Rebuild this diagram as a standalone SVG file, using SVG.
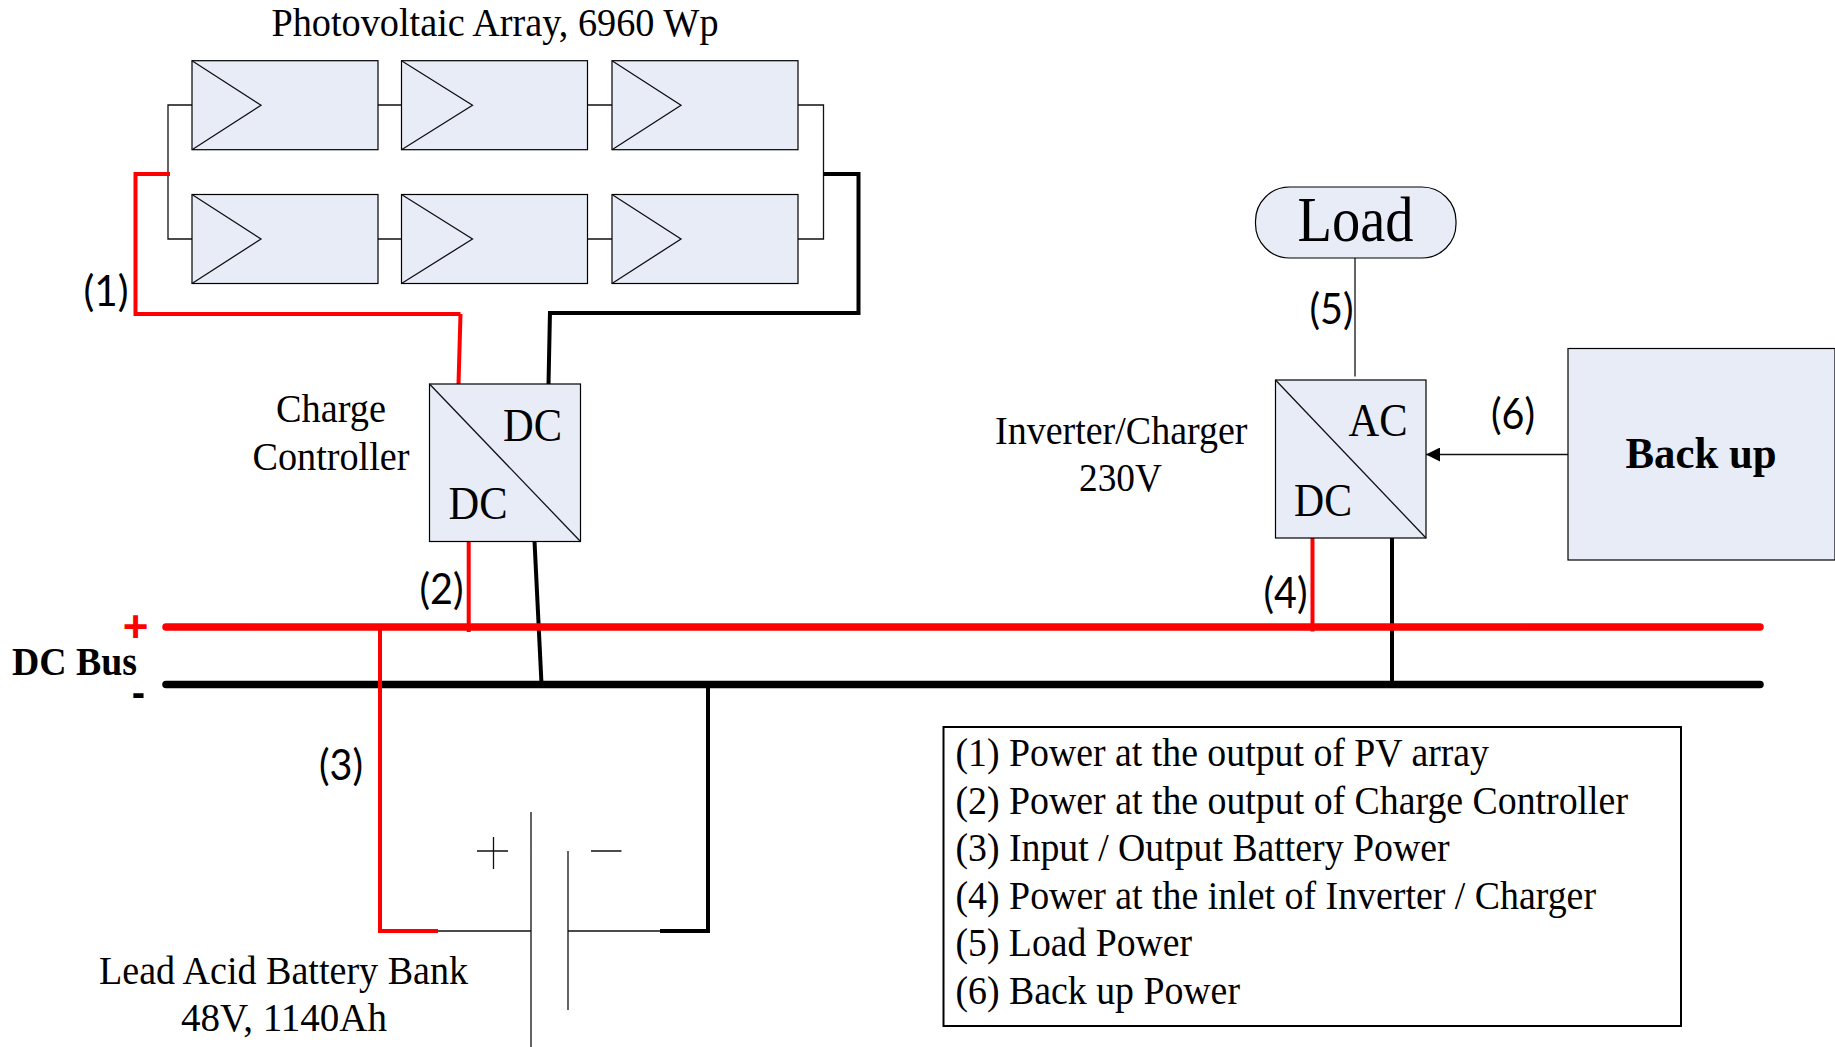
<svg xmlns="http://www.w3.org/2000/svg" width="1835" height="1047" viewBox="0 0 1835 1047">
<style>
.s{font-family:"Liberation Serif","Times New Roman",serif;fill:#000;font-size:40px}
.b{font-weight:bold}
.c{font-family:Lato,"Liberation Sans",sans-serif;fill:#000;font-size:42px}
.box{fill:#E7ECF7;stroke:#000;stroke-width:1.2}
.w{fill:none;stroke:#111;stroke-width:1.3}
.r{fill:none;stroke:#f00;stroke-width:4}
.k{fill:none;stroke:#000;stroke-width:4}
</style>
<defs>
<g id="pv"><rect class="box" x="0" y="0" width="186" height="89"/><path class="w" d="M0 0L69 44.500L0 89"/></g>
<g id="pv2"><rect class="box" x="0" y="0" width="186" height="89"/><path class="w" d="M0 0L71 44.500L0 89"/></g>
<marker id="ah" markerUnits="userSpaceOnUse" markerWidth="14" markerHeight="14" refX="14" refY="7" orient="auto"><path d="M0 0L14 7L0 14Z" fill="#000"/></marker>
</defs>
<g id="connectors">
<path class="w" d="M192 105H168V239H192M378 105H401M378 239H401M587.500 105H612M587.500 239H612M798 105H823.500V239H798"/>
<path class="r" d="M170 174H135.500V314H460.500M460.500 314L458.500 384"/>
<path class="k" d="M823.500 174H858.500V313H550M550 311L548.500 384"/>
<path class="r" d="M468.700 541V632"/>
<path class="k" d="M534.500 541L541.500 684"/>
<path class="r" d="M1312.500 537V631.500"/>
<path class="k" d="M1392 537V684"/>
<path class="w" d="M1355 258V376.500"/>
<path class="w" d="M1568 454.500H1426" marker-end="url(#ah)"/>
<path fill="none" stroke="#f00" stroke-width="7.500" stroke-linecap="round" d="M166 627H1760"/>
<path fill="none" stroke="#000" stroke-width="7.500" stroke-linecap="round" d="M166 684.500H1760"/>
<path class="r" d="M380 627V931H438"/>
<path class="k" d="M660 931H708V684"/>
<path class="w" d="M438 931H531M568 931H660"/>
</g>
<g id="pv-array">
<use href="#pv" x="192" y="60.700"/><use href="#pv2" x="401.500" y="60.700"/><use href="#pv" x="612" y="60.700"/>
<use href="#pv" x="192" y="194.500"/><use href="#pv2" x="401.500" y="194.500"/><use href="#pv" x="612" y="194.500"/>
<text class="s" x="271.500" y="36" textLength="447" lengthAdjust="spacingAndGlyphs">Photovoltaic Array, 6960 Wp</text>
</g>
<g id="charge-controller">
<rect class="box" x="429.500" y="384" width="151" height="157.500"/>
<path class="w" d="M429.500 384L580.500 541.500"/>
<text class="s" x="503" y="441" style="font-size:46px" textLength="59" lengthAdjust="spacingAndGlyphs">DC</text>
<text class="s" x="448.500" y="519" style="font-size:46px" textLength="59" lengthAdjust="spacingAndGlyphs">DC</text>
<text class="s" x="276" y="422" textLength="110" lengthAdjust="spacingAndGlyphs">Charge</text>
<text class="s" x="252.500" y="470" textLength="157" lengthAdjust="spacingAndGlyphs">Controller</text>
</g>
<g id="load">
<rect class="box" x="1255.500" y="187" width="200.500" height="71" rx="34" ry="34"/>
<text class="s" x="1297.500" y="241" style="font-size:63px" textLength="116" lengthAdjust="spacingAndGlyphs">Load</text>
</g>
<g id="inverter">
<rect class="box" x="1275.500" y="380" width="150.500" height="158"/>
<path class="w" d="M1275.500 380L1426 538"/>
<text class="s" x="1348.500" y="436" style="font-size:46px" textLength="59" lengthAdjust="spacingAndGlyphs">AC</text>
<text class="s" x="1294" y="516" style="font-size:46px" textLength="58" lengthAdjust="spacingAndGlyphs">DC</text>
<text class="s" x="995" y="443.500" textLength="252.500" lengthAdjust="spacingAndGlyphs">Inverter/Charger</text>
<text class="s" x="1079" y="491" textLength="83" lengthAdjust="spacingAndGlyphs">230V</text>
</g>
<g id="backup">
<rect class="box" x="1568" y="348.500" width="267" height="211.500"/>
<text class="s b" x="1625.500" y="468" style="font-size:44px" textLength="151" lengthAdjust="spacingAndGlyphs">Back up</text>
</g>
<g id="dc-bus">
<text class="s b" x="12" y="675" style="font-size:40px" textLength="125" lengthAdjust="spacingAndGlyphs">DC Bus</text>
<text x="135.500" y="642" text-anchor="middle" style="font-family:'Liberation Sans',sans-serif;font-size:44px;font-weight:bold;fill:#f00">+</text>
<text x="138.500" y="706" text-anchor="middle" style="font-family:'Liberation Sans',sans-serif;font-size:40px;font-weight:bold;fill:#000">-</text>
</g>
<g id="battery">
<path class="w" d="M531 812V1047M568 851V1010M477 851H508M493.500 837V869M591 851H621.500"/>
<text class="s" x="99" y="984" textLength="369" lengthAdjust="spacingAndGlyphs">Lead Acid Battery Bank</text>
<text class="s" x="181" y="1031" textLength="206" lengthAdjust="spacingAndGlyphs">48V, 1140Ah</text>
</g>
<g id="labels">
<text class="c" x="83.500" y="306" textLength="45" lengthAdjust="spacingAndGlyphs">(1)</text>
<text class="c" x="419.500" y="604" textLength="44" lengthAdjust="spacingAndGlyphs">(2)</text>
<text class="c" x="319" y="780" textLength="44" lengthAdjust="spacingAndGlyphs">(3)</text>
<text class="c" x="1263.500" y="608" textLength="44" lengthAdjust="spacingAndGlyphs">(4)</text>
<text class="c" x="1309.500" y="324" textLength="44" lengthAdjust="spacingAndGlyphs">(5)</text>
<text class="c" x="1491" y="428.500" textLength="44" lengthAdjust="spacingAndGlyphs">(6)</text>
</g>
<g id="legend">
<rect x="943.500" y="727" width="737.500" height="299" fill="#fff" stroke="#000" stroke-width="2"/>
<text class="s" x="955.500" y="766" textLength="533.500" lengthAdjust="spacingAndGlyphs">(1) Power at the output of PV array</text>
<text class="s" x="955.500" y="814" textLength="672.500" lengthAdjust="spacingAndGlyphs">(2) Power at the output of Charge Controller</text>
<text class="s" x="955.500" y="861" textLength="494" lengthAdjust="spacingAndGlyphs">(3) Input / Output Battery Power</text>
<text class="s" x="955.500" y="909" textLength="640.500" lengthAdjust="spacingAndGlyphs">(4) Power at the inlet of Inverter / Charger</text>
<text class="s" x="955.500" y="956" textLength="236.500" lengthAdjust="spacingAndGlyphs">(5) Load Power</text>
<text class="s" x="955.500" y="1004" textLength="284.500" lengthAdjust="spacingAndGlyphs">(6) Back up Power</text>
</g>
</svg>
